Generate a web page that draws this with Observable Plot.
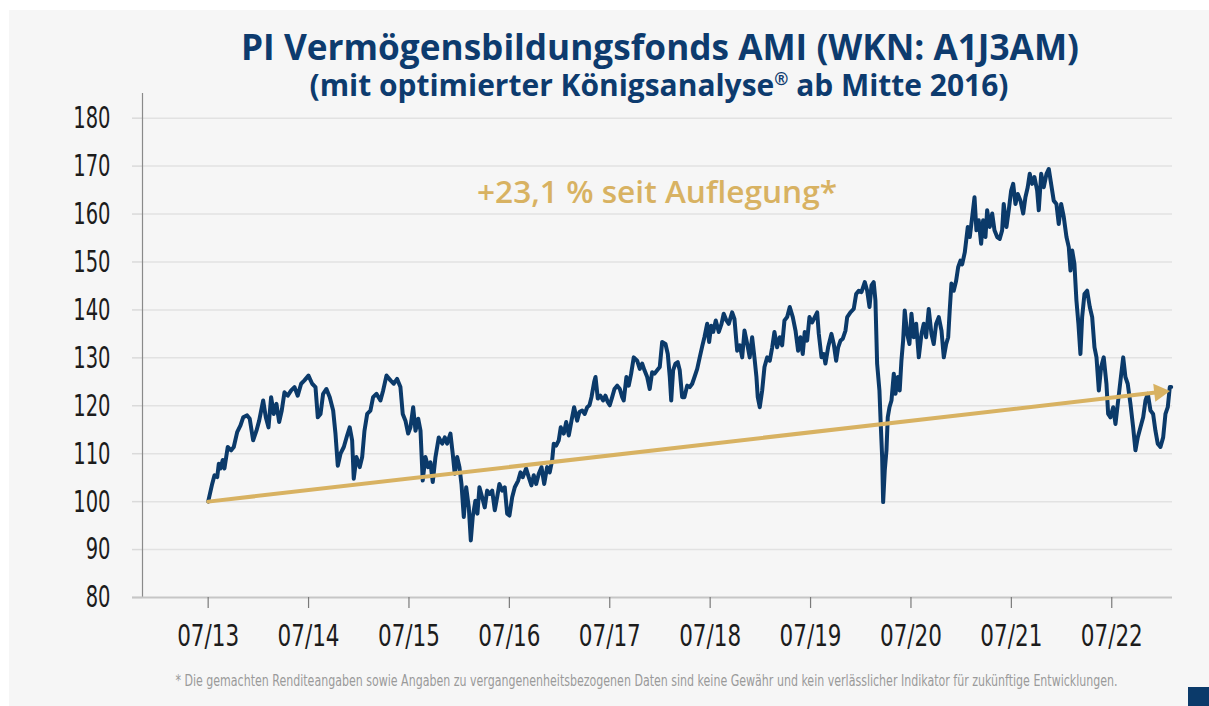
<!DOCTYPE html>
<html>
<head>
<meta charset="utf-8">
<script src="https://cdn.jsdelivr.net/npm/d3@7"></script>
<script src="https://cdn.jsdelivr.net/npm/@observablehq/plot@0.6"></script>
<style>
  html, body { margin: 0; padding: 0; background: #ffffff; }
  #wrap { position: relative; width: 1209px; height: 706px; overflow: hidden; background: #ffffff; }
  #panel { position: absolute; left: 9px; top: 10px; right: 0; bottom: 0; background: #f6f6f6; }
  #chart { position: absolute; left: 0; top: 0; }
  #overlay { position: absolute; left: 0; top: 0; pointer-events: none; }
  #square { position: absolute; left: 1188px; top: 687px; width: 21px; height: 19px; background: #0b3a6a; }
</style>
</head>
<body>
<div id="wrap">
  <div id="panel"></div>
  <div id="chart"></div>
  <svg id="overlay" width="1209" height="706"></svg>
  <div id="square"></div>
</div>
<script>
// ---- data (decimal year, fund value; launch = 100) ----
const years = [
2013.500,2013.540,2013.563,2013.590,2013.606,2013.623,2013.645,2013.662,2013.695,2013.729,
2013.755,2013.789,2013.822,2013.849,2013.888,2013.914,2013.948,2013.981,2014.008,2014.048,
2014.074,2014.101,2014.127,2014.153,2014.180,2014.207,2014.233,2014.260,2014.293,2014.327,
2014.360,2014.392,2014.426,2014.459,2014.499,2014.536,2014.569,2014.592,2014.619,2014.645,
2014.678,2014.711,2014.745,2014.768,2014.791,2014.818,2014.851,2014.884,2014.910,2014.934,
2014.950,2014.977,2015.010,2015.034,2015.057,2015.084,2015.116,2015.143,2015.176,2015.216,
2015.243,2015.276,2015.316,2015.349,2015.382,2015.415,2015.438,2015.465,2015.492,2015.515,
2015.542,2015.565,2015.592,2015.615,2015.637,2015.664,2015.691,2015.714,2015.737,2015.764,
2015.797,2015.831,2015.857,2015.880,2015.913,2015.936,2015.956,2015.980,2016.003,2016.023,
2016.046,2016.070,2016.096,2016.116,2016.135,2016.162,2016.182,2016.202,2016.229,2016.255,
2016.279,2016.305,2016.329,2016.355,2016.378,2016.401,2016.428,2016.454,2016.478,2016.501,
2016.528,2016.554,2016.588,2016.611,2016.633,2016.667,2016.693,2016.720,2016.743,2016.767,
2016.793,2016.820,2016.847,2016.876,2016.902,2016.926,2016.942,2016.966,2016.992,2017.012,
2017.042,2017.066,2017.092,2017.119,2017.145,2017.175,2017.198,2017.225,2017.251,2017.275,
2017.298,2017.318,2017.345,2017.358,2017.381,2017.407,2017.434,2017.457,2017.480,2017.500,
2017.524,2017.547,2017.574,2017.600,2017.624,2017.639,2017.666,2017.689,2017.713,2017.739,
2017.773,2017.799,2017.823,2017.846,2017.873,2017.898,2017.922,2017.945,2017.972,2017.998,
2018.022,2018.055,2018.078,2018.098,2018.112,2018.131,2018.154,2018.177,2018.197,2018.221,
2018.244,2018.271,2018.297,2018.321,2018.344,2018.371,2018.396,2018.423,2018.443,2018.470,
2018.490,2018.510,2018.530,2018.556,2018.586,2018.613,2018.635,2018.662,2018.685,2018.719,
2018.742,2018.769,2018.795,2018.819,2018.842,2018.869,2018.894,2018.918,2018.941,2018.961,
2018.974,2018.994,2019.018,2019.041,2019.068,2019.094,2019.118,2019.140,2019.167,2019.193,
2019.217,2019.240,2019.267,2019.293,2019.323,2019.350,2019.376,2019.399,2019.422,2019.442,
2019.466,2019.489,2019.516,2019.542,2019.566,2019.582,2019.609,2019.631,2019.648,2019.675,
2019.708,2019.731,2019.755,2019.775,2019.798,2019.821,2019.848,2019.865,2019.897,2019.930,
2019.954,2019.980,2020.007,2020.040,2020.064,2020.087,2020.107,2020.129,2020.146,2020.163,
2020.186,2020.199,2020.213,2020.223,2020.239,2020.256,2020.269,2020.286,2020.306,2020.329,
2020.346,2020.369,2020.388,2020.405,2020.422,2020.438,2020.462,2020.485,2020.505,2020.528,
2020.552,2020.578,2020.605,2020.627,2020.651,2020.677,2020.704,2020.727,2020.751,2020.777,
2020.804,2020.827,2020.851,2020.871,2020.886,2020.903,2020.926,2020.950,2020.970,2020.993,
2021.010,2021.036,2021.066,2021.086,2021.110,2021.133,2021.152,2021.175,2021.199,2021.219,
2021.242,2021.259,2021.285,2021.309,2021.332,2021.359,2021.384,2021.408,2021.424,2021.451,
2021.474,2021.498,2021.518,2021.541,2021.564,2021.591,2021.618,2021.640,2021.663,2021.683,
2021.707,2021.730,2021.757,2021.773,2021.797,2021.823,2021.850,2021.873,2021.896,2021.922,
2021.949,2021.972,2021.996,2022.022,2022.049,2022.072,2022.089,2022.106,2022.128,2022.148,
2022.168,2022.188,2022.205,2022.228,2022.255,2022.281,2022.305,2022.328,2022.348,2022.371,
2022.394,2022.420,2022.447,2022.464,2022.487,2022.514,2022.537,2022.560,2022.587,2022.614,
2022.636,2022.659,2022.686,2022.713,2022.736,2022.759,2022.786,2022.813,2022.836,2022.859,
2022.886,2022.912,2022.935,2022.958,2022.985,2023.012,2023.035,2023.058,2023.078,2023.092
];
const values = [
100.0,103.7,105.5,105.1,107.9,106.9,108.7,106.9,111.4,110.7,
111.4,114.5,115.9,117.6,118.0,117.3,112.8,114.8,116.9,121.1,
117.6,115.5,121.8,118.3,120.4,116.6,119.0,122.8,122.1,123.2,
123.9,122.1,124.6,125.3,126.3,124.6,123.9,117.6,118.3,122.5,
123.5,121.8,119.0,114.2,107.5,110.0,111.4,113.8,115.5,112.8,
104.8,109.3,107.2,109.3,114.8,118.3,119.0,121.8,122.5,121.1,
123.2,126.3,125.3,124.6,125.6,123.9,118.3,116.9,114.2,115.5,
119.7,114.8,117.3,114.8,104.4,109.3,107.2,108.2,104.1,109.3,
113.4,112.1,113.4,112.1,114.2,110.0,105.8,109.3,107.2,103.7,
96.8,103.0,98.8,91.9,96.8,100.2,97.5,103.0,100.9,98.8,
102.3,101.6,102.3,98.2,100.9,103.7,102.3,103.0,97.5,97.1,
100.9,103.0,104.4,106.1,105.1,106.9,105.1,103.4,105.5,103.7,
105.8,107.2,103.7,107.2,106.1,108.6,112.1,111.7,112.8,115.5,
114.2,116.6,113.8,116.9,119.7,116.9,118.7,119.0,118.3,119.7,
120.1,121.8,125.0,126.0,121.5,122.1,121.1,122.1,120.8,120.1,
121.8,123.5,124.2,123.5,121.8,121.1,126.0,124.2,126.7,130.1,
129.4,127.7,128.8,127.4,126.0,123.5,127.0,126.7,127.4,128.1,
133.3,132.9,130.8,126.0,121.1,127.4,128.8,129.1,127.4,121.8,
121.8,124.2,123.9,124.6,126.0,127.7,130.1,132.6,134.3,137.1,
133.3,136.7,135.4,137.8,135.4,137.1,139.2,137.8,137.1,139.5,
138.1,131.5,132.6,130.1,135.7,132.9,130.1,134.3,130.1,126.0,
121.8,119.7,123.2,128.1,130.1,129.4,132.2,135.4,132.2,134.3,
132.6,137.8,138.5,140.6,138.5,135.7,131.5,134.3,130.8,135.4,
133.6,138.5,137.4,138.5,139.5,135.0,130.1,130.8,128.8,132.2,
135.0,132.9,129.4,132.2,133.6,134.0,135.7,138.5,139.5,140.2,
143.3,144.0,143.7,145.8,144.0,140.6,145.1,145.8,142.0,128.8,
123.2,116.2,109.3,99.9,106.5,110.7,117.6,119.7,121.1,126.7,
122.5,126.0,123.2,129.4,133.6,139.9,135.0,132.9,139.2,134.3,
137.1,130.1,135.0,137.1,134.3,140.2,135.0,132.9,137.1,138.5,
135.7,130.1,132.9,134.3,139.9,145.5,144.0,146.1,148.9,150.3,
149.5,152.0,157.3,155.2,159.4,163.5,156.6,158.7,153.8,158.7,
155.2,160.8,157.3,160.1,156.6,155.2,154.8,156.6,162.1,157.3,
160.8,164.9,166.3,162.1,164.2,162.8,160.1,163.5,165.6,168.4,
166.3,167.7,164.9,160.8,168.4,165.6,168.4,169.4,166.3,162.8,
162.1,157.9,162.1,159.4,155.2,153.1,148.2,152.4,149.6,142.0,
137.1,130.8,138.5,143.3,144.0,140.6,138.5,132.2,130.1,123.2,
128.1,130.1,124.6,118.3,117.6,119.7,116.2,120.4,125.3,130.1,
126.0,124.6,120.4,115.5,110.7,113.4,115.5,117.6,121.1,122.5,
119.0,118.3,114.8,112.1,111.4,113.4,118.3,119.7,123.9,123.9
];
// trend since launch: 100 -> 123.1 (+23,1 %)
const trendYears = [2013.5, 2023.08];
const trendValues = [100, 123.1];

const xTicks = [2013.5, 2014.5, 2015.5, 2016.5, 2017.5, 2018.5, 2019.5, 2020.5, 2021.5, 2022.5];
const xTickLabels = ["07/13","07/14","07/15","07/16","07/17","07/18","07/19","07/20","07/21","07/22"];
const yTicks = [80, 90, 100, 110, 120, 130, 140, 150, 160, 170, 180];
const xDomain = [2012.846, 2023.105];
const yDomain = [80, 185.15];

const titleText = "PI Vermögensbildungsfonds AMI (WKN: A1J3AM)";
const subtitleText = "(mit optimierter Königsanalyse";
const subtitleTail = " ab Mitte 2016)";
const annotationText = "+23,1 % seit Auflegung*";
const footnoteText = "* Die gemachten Renditeangaben sowie Angaben zu vergangenenheitsbezogenen Daten sind keine Gewähr und kein verlässlicher Indikator für zukünftige Entwicklungen.";

const series = years.map((t, i) => ({t, v: values[i]}));
const trend = [{x1: trendYears[0], y1: trendValues[0], x2: trendYears[1], y2: trendValues[1]}];
const labelFor = new Map(xTicks.map((t, i) => [t, xTickLabels[i]]));

const condensed = "'Liberation Sans Narrow', 'DejaVu Sans Condensed', 'DejaVu Sans', sans-serif";
const NAVY = "#0b3a6a", GOLD = "#d8b262";

const frame = {
  width: 1209, height: 660,
  marginLeft: 142, marginRight: 37, marginTop: 93, marginBottom: 63,
  style: {background: "transparent", fontFamily: condensed, color: "#1c1c1c", overflow: "visible"},
  x: {type: "linear", domain: xDomain},
  y: {domain: yDomain}
};

// arrowhead direction from the plot's own scales
const probe = Plot.plot({...frame, marks: [Plot.ruleY([80])]});
const sx = probe.scale("x"), sy = probe.scale("y");
const px1 = sx.apply(trendYears[0]), py1 = sy.apply(trendValues[0]);
const px2 = sx.apply(trendYears[1]), py2 = sy.apply(trendValues[1]);
const ang = Math.atan2(py2 - py1, px2 - px1); // radians, negative = up
const headR = 6.8;
const tipBack = headR * 1.55; // centroid to tip distance of the triangle symbol
const head = [{x: trendYears[1], y: trendValues[1]}];

const chart = Plot.plot({
  ...frame,
  marks: [
    Plot.ruleY(yTicks.filter(d => d > 80), {stroke: "#e2e2e2", strokeWidth: 1.5}),
    Plot.axisY(yTicks, {tickSize: 10, tickPadding: 22, fontSize: 31, stroke: "#dadada", strokeWidth: 1.5, fill: "#1c1c1c", label: null}),
    Plot.ruleX([xDomain[0]], {stroke: "#8a8a8a", strokeWidth: 1.2}),
    Plot.ruleY([80], {stroke: "#c6c6c6", strokeWidth: 2, insetLeft: -10}),
    Plot.axisX(xTicks, {tickSize: 11, tickPadding: 15, fontSize: 31, stroke: "#7a7a7a", strokeWidth: 1.2, fill: "#1c1c1c", tickFormat: d => labelFor.get(d), label: null}),
    Plot.line(series, {x: "t", y: "v", stroke: NAVY, strokeWidth: 4, strokeLinejoin: "round", strokeLinecap: "round"}),
    Plot.arrow(trend, {x1: "x1", y1: "y1", x2: "x2", y2: "y2", stroke: GOLD, strokeWidth: 4, headLength: 0, insetEnd: 10}),
    Plot.dot(head, {x: "x", y: "y", symbol: "triangle", r: headR, fill: GOLD, stroke: "none",
      rotate: 90 + ang * 180 / Math.PI,
      dx: -tipBack * Math.cos(ang), dy: -tipBack * Math.sin(ang)})
  ]
});
document.getElementById("chart").appendChild(chart);

// condensed look for the tick labels (reference uses a condensed face)
d3.select(chart).selectAll('g[aria-label="y-axis tick label"] text, g[aria-label="x-axis tick label"] text')
  .each(function () {
    const n = this.textContent.length;
    this.setAttribute("textLength", n * 12.4);
    this.setAttribute("lengthAdjust", "spacingAndGlyphs");
  });

// ---- titles, annotation, footnote as real text ----
const ov = d3.select("#overlay");
const sans = "'Open Sans', 'Noto Sans', sans-serif";
ov.append("text").attr("x", 660).attr("y", 60).attr("text-anchor", "middle")
  .attr("font-family", sans).attr("font-weight", 700).attr("font-size", 35).attr("fill", "#0d3b6e")
  .attr("textLength", 838).attr("lengthAdjust", "spacingAndGlyphs").text(titleText);
const st = ov.append("text").attr("x", 659).attr("y", 96).attr("text-anchor", "middle")
  .attr("font-family", sans).attr("font-weight", 700).attr("font-size", 30).attr("fill", "#0d3b6e")
  .attr("textLength", 699).attr("lengthAdjust", "spacingAndGlyphs");
st.append("tspan").text(subtitleText);
st.append("tspan").attr("font-size", 17).attr("dy", -11).text("®");
st.append("tspan").attr("dy", 11).text(subtitleTail);
ov.append("text").attr("x", 657).attr("y", 203).attr("text-anchor", "middle")
  .attr("font-family", sans).attr("font-weight", 600).attr("font-size", 31).attr("fill", GOLD)
  .attr("textLength", 360).attr("lengthAdjust", "spacingAndGlyphs").text(annotationText);
// footnote: natural text, horizontally scaled to the reference width
const fn = ov.append("text").attr("x", 0).attr("y", 0).attr("text-anchor", "middle")
  .attr("font-family", condensed).attr("font-size", 16.5).attr("fill", "#9a9a9a").text(footnoteText);
const fnW = fn.node().getComputedTextLength() || 1;
fn.attr("transform", `translate(646.5,686) scale(${943 / fnW},1)`);
</script>
</body>
</html>
